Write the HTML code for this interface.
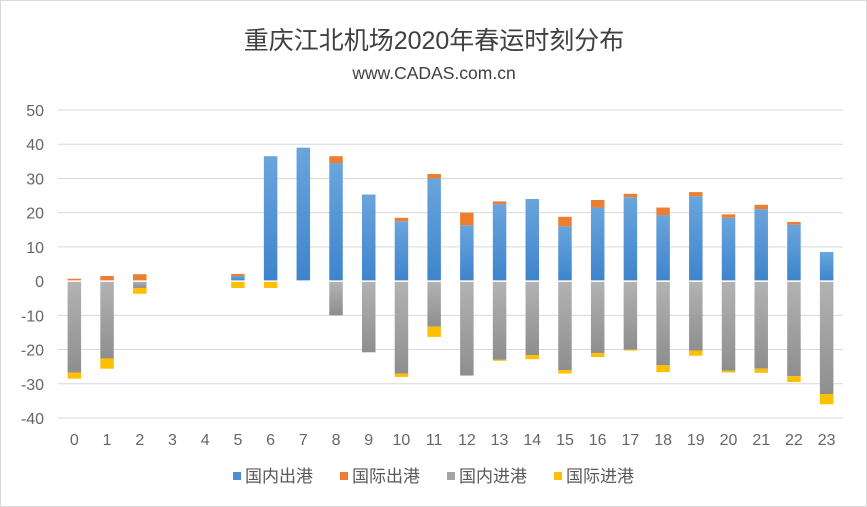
<!DOCTYPE html>
<html><head><meta charset="utf-8"><style>
body{margin:0;background:#fff;}
svg{display:block;font-family:"Liberation Sans","Noto Sans CJK SC",sans-serif;}
</style></head><body>
<svg id="c" width="867" height="507">
<defs>
<linearGradient id="gB" x1="0" y1="0" x2="0" y2="1"><stop offset="0" stop-color="#6aa5dc"/><stop offset="1" stop-color="#3e84cc"/></linearGradient>
<linearGradient id="gG" x1="0" y1="0" x2="0" y2="1"><stop offset="0" stop-color="#b3b3b3"/><stop offset="1" stop-color="#8e8e8e"/></linearGradient>
</defs>
<rect x="0.5" y="0.5" width="866" height="506" fill="#fff" stroke="#d9d9d9"/>
<text x="434" y="49" text-anchor="middle" font-size="25" fill="#404040">重庆江北机场2020年春运时刻分布</text>
<text x="434" y="79" text-anchor="middle" font-size="17.5" fill="#404040">www.CADAS.com.cn</text>
<g id="grid"></g><g id="bars"></g><g id="axis"></g>
<g font-size="17" fill="#595959">
<rect x="233" y="472" width="8" height="8" fill="#4a8fd4"/>
<text x="245" y="482">国内出港</text>
<rect x="340" y="472" width="8" height="8" fill="#ed7d31"/>
<text x="352" y="482">国际出港</text>
<rect x="447" y="472" width="8" height="8" fill="#a5a5a5"/>
<text x="459" y="482">国内进港</text>
<rect x="554" y="472" width="8" height="8" fill="#ffc000"/>
<text x="566" y="482">国际进港</text>
</g>
</svg>
<script>
const categories=["0","1","2","3","4","5","6","7","8","9","10","11","12","13","14","15","16","17","18","19","20","21","22","23"];
const domesticOut=[0,0,0,0,0,1.5,36.5,39,34.5,25.3,17.5,30,16.3,22.5,24,16,21.5,24.5,19.3,24.8,18.5,21,16.5,8.5];
const intlOut=[0.7,1.5,2,0,0,0.6,0,0,2,0,1,1.3,3.7,0.8,0,2.8,2.2,1,2.2,1.2,1,1.3,0.8,0];
const domesticIn=[-26.7,-22.6,-2,0,0,0,0,0,-10,-20.8,-27,-13.3,-27.6,-23,-21.6,-26,-21,-20,-24.6,-20.3,-26.2,-25.6,-27.8,-33];
const intlIn=[-1.8,-3,-1.7,0,0,-2,-2,0,0,0,-1,-3,0,-0.3,-1.2,-1,-1.2,-0.3,-2,-1.5,-0.5,-1.2,-1.7,-3];
const yTicks=[50,40,30,20,10,0,-10,-20,-30,-40];
const NS="http://www.w3.org/2000/svg";
const x0=58,x1=843,yTop=110,yBot=418,vMax=50,vMin=-40;
const bw=(x1-x0)/categories.length;
function y(v){return yTop+(vMax-v)/(vMax-vMin)*(yBot-yTop);}
function xc(i){return x0+bw*(i+0.5);}
function mk(tag,attrs,parent){const e=document.createElementNS(NS,tag);for(const k in attrs)e.setAttribute(k,attrs[k]);parent.appendChild(e);return e;}
const grid=document.getElementById('grid'),axis=document.getElementById('axis'),bars=document.getElementById('bars');
yTicks.forEach(t=>{
  const l=mk('line',{x1:x0,x2:x1,y1:y(t),y2:y(t),stroke:'#d9d9d9','stroke-width':1},grid);
  
  
  const tx=mk('text',{x:44,y:y(t)+6,'text-anchor':'end','font-size':16,fill:'#666'},axis);
  tx.textContent=t;
  
  
});
categories.forEach((c,i)=>{
  const tx=mk('text',{x:xc(i),y:445,'text-anchor':'middle','font-size':16,fill:'#666'},axis);
  tx.textContent=c;
  
  
});
const w=13.5;
function bar(a,b,i,fill,name){
  if(a===b)return;
  const r=mk('rect',{x:xc(i)-w/2,y:Math.min(y(a),y(b)),width:w,height:Math.abs(y(a)-y(b)),fill:fill},bars);
  
  
}
categories.forEach((c,i)=>{
  bar(0,domesticOut[i],i,'url(#gB)','bar-domestic-departure');
  bar(domesticOut[i],domesticOut[i]+intlOut[i],i,'#ed7d31','bar-intl-departure');
  bar(0,domesticIn[i],i,'url(#gG)','bar-domestic-arrival');
  bar(domesticIn[i],domesticIn[i]+intlIn[i],i,'#ffc000','bar-intl-arrival');
});
const z=mk('line',{x1:x0,x2:x1,y1:y(0),y2:y(0),stroke:'#fff','stroke-width':1.5},bars);


</script>
</body></html>
